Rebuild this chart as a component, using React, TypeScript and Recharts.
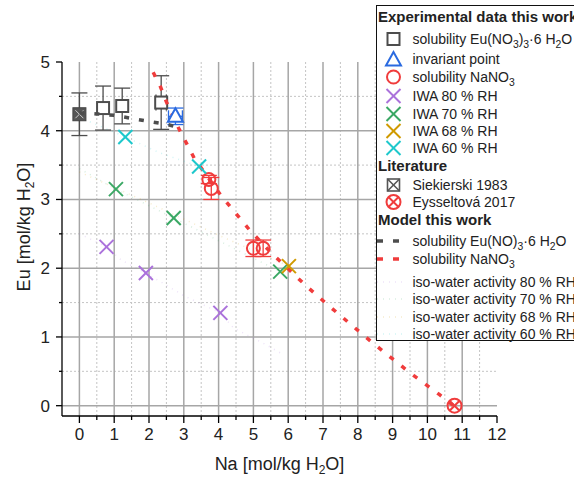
import React from 'react';
import { ScatterChart, Scatter, XAxis, YAxis, CartesianGrid, ErrorBar, Legend } from 'recharts';

const FONT = '"Liberation Sans", Arial, Helvetica, sans-serif';

// experimental data, this work
const euSolX = [0.68, 1.23, 2.35];
const euSolY = [4.33, 4.36, 4.41];
const euSolErrX = [0, 0, 0.15];
const euSolErrY = [0.32, 0.26, 0.39];

const invX = [2.76];
const invY = [4.21];
const invErrX = [0.2];
const invErrY = [0.12];

const naSolX = [3.72, 3.79, 5.0, 5.28];
const naSolY = [3.29, 3.16, 2.29, 2.29];
const naSolErrY = [0.06, 0.16, 0.12, 0.12];

const iwa80X = [0.78, 1.91, 4.05];
const iwa80Y = [2.31, 1.93, 1.35];
const iwa70X = [1.05, 2.71, 5.77];
const iwa70Y = [3.15, 2.73, 1.95];
const iwa68X = [6.02];
const iwa68Y = [2.03];
const iwa60X = [1.32, 3.44];
const iwa60Y = [3.91, 3.48];

// literature
const siekX = [0];
const siekY = [4.24];
const siekErrY = [0.31];
const eyssX = [10.78];
const eyssY = [0];

// model this work
const modelEuX = [0, 0.5, 1.0, 1.5, 2.0, 2.5, 2.82];
const modelEuY = [4.26, 4.245, 4.225, 4.18, 4.135, 4.095, 4.05];
const modelNaX = [2.12, 2.33, 2.5, 2.85, 3.3, 4.05, 4.9, 5.5, 6.5, 7.2, 8.2, 8.9, 9.6, 10.35, 10.75];
const modelNaY = [4.85, 4.64, 4.42, 4.04, 3.6, 3.07, 2.55, 2.23, 1.75, 1.44, 1.01, 0.72, 0.44, 0.16, 0.0];
const iso80X = [0, 0.78, 1.2, 1.91, 3.0, 4.05, 4.43, 5.39, 5.8];
const iso80Y = [2.5, 2.31, 2.12, 1.93, 1.6, 1.35, 1.13, 0.88, 0.76];
const iso70X = [0, 1.05, 2.71, 4.2, 5.77];
const iso70Y = [3.45, 3.15, 2.73, 2.35, 1.95];
const iso68X = [0, 2.0, 4.0, 6.02];
const iso68Y = [3.4, 2.95, 2.48, 2.03];
const iso60X = [0.3, 1.32, 2.3, 3.44];
const iso60Y = [4.13, 3.91, 3.68, 3.48];

// axes
const xTicks = [0, 0.5, 1, 1.5, 2, 2.5, 3, 3.5, 4, 4.5, 5, 5.5, 6, 6.5, 7, 7.5, 8, 8.5, 9, 9.5, 10, 10.5, 11, 11.5, 12];
const yTicks = [0, 0.5, 1, 1.5, 2, 2.5, 3, 3.5, 4, 4.5, 5];
const xMajorGrid = [0, 1, 2, 3, 4, 5, 6, 7, 8, 9, 10, 11];
const xMinorGrid = [0.5, 1.5, 2.5, 3.5, 4.5, 5.5, 6.5, 7.5, 8.5, 9.5, 10.5, 11.5];
const yMajorGrid = [0, 1, 2, 3, 4];
const yMinorGrid = [0.5, 1.5, 2.5, 3.5, 4.5];

const C = {
  gray: '#4d4d4d',
  blue: '#2a6ae0',
  red: '#f03c3c',
  purple: '#ab72db',
  green: '#3aa864',
  gold: '#d09a00',
  cyan: '#1ec8cc',
};

const pts = (xs: number[], ys: number[], ex?: number[], ey?: number[]) =>
  xs.map((x, i) => ({ x, y: ys[i], ex: ex ? ex[i] : 0, ey: ey ? ey[i] : 0 }));

const noShape = () => <g />;

const squareShape = (p: any) => (
  <rect x={p.cx - 6} y={p.cy - 6} width={12} height={12} fill="#fff" stroke={C.gray} strokeWidth={2} />
);
const triangleShape = (p: any) => (
  <polygon
    points={`${p.cx},${p.cy - 8} ${p.cx - 7.5},${p.cy + 5.5} ${p.cx + 7.5},${p.cy + 5.5}`}
    fill="#fff"
    stroke={C.blue}
    strokeWidth={2}
  />
);
const circleShape = (p: any) => <circle cx={p.cx} cy={p.cy} r={6.5} fill="none" stroke={C.red} strokeWidth={2} />;
const crossShape = (color: string) => (p: any) => (
  <g stroke={color} strokeWidth={2}>
    <line x1={p.cx - 7} y1={p.cy - 7} x2={p.cx + 7} y2={p.cy + 7} />
    <line x1={p.cx - 7} y1={p.cy + 7} x2={p.cx + 7} y2={p.cy - 7} />
  </g>
);
const siekShape = (p: any) => (
  <g>
    <rect x={p.cx - 6.5} y={p.cy - 6.5} width={13} height={13} fill="#555" stroke="#444" strokeWidth={1} />
    <line x1={p.cx - 4} y1={p.cy - 4} x2={p.cx + 4} y2={p.cy + 4} stroke="#ccc" strokeWidth={1} />
    <line x1={p.cx - 4} y1={p.cy + 4} x2={p.cx + 4} y2={p.cy - 4} stroke="#ccc" strokeWidth={1} />
  </g>
);
const eyssShape = (p: any) => (
  <g stroke={C.red} strokeWidth={2} fill="none">
    <circle cx={p.cx} cy={p.cy} r={7} />
    <line x1={p.cx - 5} y1={p.cy - 5} x2={p.cx + 5} y2={p.cy + 5} />
    <line x1={p.cx - 5} y1={p.cy + 5} x2={p.cx + 5} y2={p.cy - 5} />
  </g>
);

const renderXTick = (p: any) => {
  const v = p.payload.value;
  const major = Number.isInteger(v);
  return (
    <g>
      <line x1={p.x} x2={p.x} y1={p.y} y2={p.y + (major ? 7 : 4)} stroke="#000" strokeWidth={1.3} />
      {major && (
        <text x={p.x} y={p.y + 24} textAnchor="middle" fontSize={17} fontFamily={FONT} fill="#222">
          {v}
        </text>
      )}
    </g>
  );
};

const renderYTick = (p: any) => {
  const v = p.payload.value;
  const major = Number.isInteger(v);
  return (
    <g>
      <line x1={p.x} x2={p.x - (major ? 6 : 3)} y1={p.y} y2={p.y} stroke="#000" strokeWidth={1.3} />
      {major && (
        <text x={p.x - 12} y={p.y + 6} textAnchor="end" fontSize={17} fontFamily={FONT} fill="#222">
          {v}
        </text>
      )}
    </g>
  );
};

const renderXTitle = (props: any) => {
  const vb = props.viewBox || { x: 62, y: 416, width: 435 };
  return (
    <text x={vb.x + vb.width / 2} y={470} textAnchor="middle" fontSize={18} fontFamily={FONT} fill="#222">
      Na [mol/kg H<tspan fontSize={12} dy={4}>2</tspan>
      <tspan dy={-4}>O]</tspan>
    </text>
  );
};

const renderYTitle = () => (
  <text
    x={0}
    y={0}
    transform="translate(30,227) rotate(-90)"
    textAnchor="middle"
    fontSize={18}
    fontFamily={FONT}
    fill="#222"
  >
    Eu [mol/kg H<tspan fontSize={12} dy={4}>2</tspan>
    <tspan dy={-4}>O]</tspan>
  </text>
);

const sub = (t: string) => <sub style={{ fontSize: '0.74em', lineHeight: 0 }}>{t}</sub>;

const legendRows: { kind: string; color?: string; cy: number; label: React.ReactNode }[] = [
  { kind: 'head', cy: 17, label: 'Experimental data this work' },
  { kind: 'square', cy: 39, label: <>solubility Eu(NO{sub('3')}){sub('3')}·6 H{sub('2')}O</> },
  { kind: 'triangle', cy: 59.5, label: 'invariant point' },
  { kind: 'circle', cy: 77, label: <>solubility NaNO{sub('3')}</> },
  { kind: 'cross', color: C.purple, cy: 96.5, label: 'IWA 80 % RH' },
  { kind: 'cross', color: C.green, cy: 114, label: 'IWA 70 % RH' },
  { kind: 'cross', color: C.gold, cy: 131, label: 'IWA 68 % RH' },
  { kind: 'cross', color: C.cyan, cy: 148, label: 'IWA 60 % RH' },
  { kind: 'head', cy: 166, label: 'Literature' },
  { kind: 'siek', cy: 185, label: 'Siekierski 1983' },
  { kind: 'eyss', cy: 202, label: 'Eysseltová 2017' },
  { kind: 'head', cy: 220, label: 'Model this work' },
  { kind: 'dash', color: C.gray, cy: 241, label: <>solubility Eu(NO){sub('3')}·6 H{sub('2')}O</> },
  { kind: 'dash', color: C.red, cy: 259, label: <>solubility NaNO{sub('3')}</> },
  { kind: 'dot', color: C.purple, cy: 282, label: 'iso-water activity 80 % RH' },
  { kind: 'dot', color: C.green, cy: 299, label: 'iso-water activity 70 % RH' },
  { kind: 'dot', color: C.gold, cy: 317, label: 'iso-water activity 68 % RH' },
  { kind: 'dot', color: C.cyan, cy: 334, label: 'iso-water activity 60 % RH' },
];

const LegendSymbol = ({ kind, color }: { kind: string; color?: string }) => {
  const c = 16.5;
  const m = 9;
  let inner: React.ReactNode = null;
  if (kind === 'square') inner = squareShape({ cx: c, cy: m });
  if (kind === 'triangle') inner = triangleShape({ cx: c, cy: m + 1 });
  if (kind === 'circle') inner = circleShape({ cx: c, cy: m });
  if (kind === 'cross') inner = crossShape(color || '#000')({ cx: c, cy: m });
  if (kind === 'siek')
    inner = (
      <g stroke="#555" strokeWidth={1.6} fill="#fff">
        <rect x={c - 6} y={m - 6} width={12} height={12} />
        <line x1={c - 6} y1={m - 6} x2={c + 6} y2={m + 6} />
        <line x1={c - 6} y1={m + 6} x2={c + 6} y2={m - 6} />
      </g>
    );
  if (kind === 'eyss') inner = eyssShape({ cx: c, cy: m });
  if (kind === 'dash')
    inner = <line x1={0} x2={22} y1={m} y2={m} stroke={color} strokeWidth={3.5} strokeDasharray="6 10" />;
  if (kind === 'dot')
    inner = (
      <line x1={0} x2={28} y1={m} y2={m} stroke={color} strokeOpacity={0.2} strokeWidth={1.5} strokeDasharray="1 5" />
    );
  return (
    <svg width={34} height={18} style={{ position: 'absolute', left: 0, top: 0, overflow: 'visible' }}>
      {inner}
    </svg>
  );
};

const renderLegend = () => (
  <div
    style={{
      position: 'relative',
      width: 230,
      height: 336,
      border: '1.5px solid #111',
      background: '#fff',
      fontFamily: FONT,
      fontSize: 14,
      color: '#222',
      boxSizing: 'border-box',
    }}
  >
    {legendRows.map((r, i) => (
      <div
        key={i}
        style={{ position: 'absolute', left: 0, top: r.cy - 6.5 - 9, height: 18, lineHeight: '18px', width: 240, whiteSpace: 'nowrap' }}
      >
        {r.kind === 'head' ? (
          <span style={{ position: 'absolute', left: 1, fontWeight: 'bold', fontSize: 15 }}>{r.label}</span>
        ) : (
          <>
            <LegendSymbol kind={r.kind} color={r.color} />
            <span style={{ position: 'absolute', left: 35.5 }}>{r.label}</span>
          </>
        )}
      </div>
    ))}
  </div>
);

const isoLine = (color: string) => ({ stroke: color, strokeOpacity: 0.2, strokeWidth: 1.5, strokeDasharray: '1 5' });

export default function App() {
  return (
    <div style={{ position: 'absolute', left: 0, top: 0, width: 574, height: 477, overflow: 'hidden', background: '#fff' }}>
      <ScatterChart width={574} height={477} margin={{ top: 62, right: 77, bottom: 0, left: 0 }}>
        <CartesianGrid
          verticalValues={xMinorGrid}
          horizontalValues={yMinorGrid}
          stroke="#c4c4c4"
          strokeWidth={1}
          strokeDasharray="2 2"
        />
        <CartesianGrid verticalValues={xMajorGrid} horizontalValues={yMajorGrid} stroke="#a6a6a6" strokeWidth={1.5} />
        <XAxis
          type="number"
          dataKey="x"
          domain={[-0.5, 12]}
          ticks={xTicks}
          interval={0}
          allowDataOverflow
          tickSize={0}
          tickMargin={0}
          tickLine={false}
          tick={renderXTick}
          axisLine={{ stroke: '#000', strokeWidth: 1.3 }}
          height={61}
          label={renderXTitle}
        />
        <YAxis
          type="number"
          dataKey="y"
          domain={[-0.15, 5]}
          ticks={yTicks}
          interval={0}
          allowDataOverflow
          tickSize={0}
          tickMargin={0}
          tickLine={false}
          tick={renderYTick}
          axisLine={{ stroke: '#000', strokeWidth: 1.3 }}
          width={62}
          label={renderYTitle}
        />

        <Scatter data={pts(iso80X, iso80Y)} line={isoLine(C.purple)} shape={noShape} isAnimationActive={false} />
        <Scatter data={pts(iso70X, iso70Y)} line={isoLine(C.green)} shape={noShape} isAnimationActive={false} />
        <Scatter data={pts(iso68X, iso68Y)} line={isoLine(C.gold)} shape={noShape} isAnimationActive={false} />
        <Scatter data={pts(iso60X, iso60Y)} line={isoLine(C.cyan)} shape={noShape} isAnimationActive={false} />

        <Scatter data={pts(siekX, siekY, undefined, siekErrY)} shape={siekShape} isAnimationActive={false}>
          <ErrorBar dataKey="ey" direction="y" width={8} stroke={C.gray} strokeWidth={1.3} />
        </Scatter>
        <Scatter data={pts(euSolX, euSolY, euSolErrX, euSolErrY)} shape={squareShape} isAnimationActive={false}>
          <ErrorBar dataKey="ey" direction="y" width={8} stroke={C.gray} strokeWidth={1.3} />
          <ErrorBar dataKey="ex" direction="x" width={8} stroke={C.gray} strokeWidth={1.3} />
        </Scatter>

        <Scatter
          data={pts(modelEuX, modelEuY)}
          line={{ stroke: C.gray, strokeWidth: 3.5, strokeDasharray: '5 10' }}
          shape={noShape}
          isAnimationActive={false}
        />
        <Scatter
          data={pts(modelNaX, modelNaY)}
          line={{ stroke: C.red, strokeWidth: 3.5, strokeDasharray: '5 10' }}
          shape={noShape}
          isAnimationActive={false}
        />

        <Scatter data={pts(invX, invY, invErrX, invErrY)} shape={triangleShape} isAnimationActive={false}>
          <ErrorBar dataKey="ey" direction="y" width={8} stroke={C.blue} strokeWidth={1.3} />
          <ErrorBar dataKey="ex" direction="x" width={6} stroke={C.blue} strokeWidth={1.3} />
        </Scatter>
        <Scatter data={pts(naSolX, naSolY, undefined, naSolErrY)} shape={circleShape} isAnimationActive={false}>
          <ErrorBar dataKey="ey" direction="y" width={8} stroke={C.red} strokeWidth={1.3} />
        </Scatter>
        <Scatter data={pts(eyssX, eyssY)} shape={eyssShape} isAnimationActive={false} />

        <Scatter data={pts(iwa80X, iwa80Y)} shape={crossShape(C.purple)} isAnimationActive={false} />
        <Scatter data={pts(iwa70X, iwa70Y)} shape={crossShape(C.green)} isAnimationActive={false} />
        <Scatter data={pts(iwa68X, iwa68Y)} shape={crossShape(C.gold)} isAnimationActive={false} />
        <Scatter data={pts(iwa60X, iwa60Y)} shape={crossShape(C.cyan)} isAnimationActive={false} />

        <Legend
          layout="vertical"
          align="center"
          verticalAlign="middle"
          wrapperStyle={{ left: 376, top: 5, width: 230, height: 336 }}
          content={renderLegend}
        />
      </ScatterChart>
    </div>
  );
}
